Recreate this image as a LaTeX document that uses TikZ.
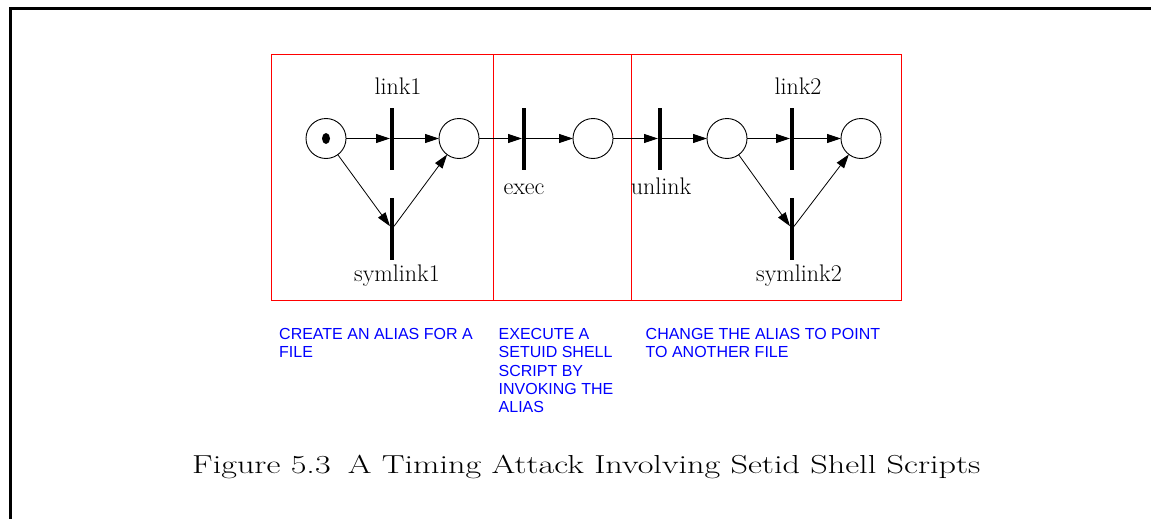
\documentclass[tikz,border=0pt]{standalone}
\usepackage{fontspec}
\newfontfamily\helv{Liberation Sans}
\usetikzlibrary{arrows.meta}
\definecolor{noteblue}{RGB}{0,0,255}
\begin{document}
\begin{tikzpicture}[x=1pt,y=-1pt,
  place/.style={circle,draw,line width=0.9pt,minimum size=40pt,inner sep=0pt,outer sep=0pt},
  trans/.style={rectangle,fill=black,minimum width=4pt,minimum height=62pt,inner sep=0pt,outer sep=0pt},
  arc/.style={line width=0.8pt,-{Triangle[length=14pt,width=9pt]}},
  lbl/.style={font=\fontsize{24}{28}\selectfont,inner sep=0pt,anchor=base},
  note/.style={font=\helv\fontsize{16}{18.4}\selectfont,text=noteblue,align=left,inner sep=0pt,anchor=base west},
  box/.style={draw=red,line width=1pt}]
\useasboundingbox (0,0) rectangle (1151,519);
% frame
\draw[line width=3pt] (1151,8.3) -- (10.5,8.3) -- (10.5,519);
% red boxes
\draw[box] (271,54.3) rectangle (901.5,300);
\draw[box] (493.5,54.3) -- (493.5,300);
\draw[box] (631,54.3) -- (631,300);
% places
\node[place] (p1) at (326,138.5) {};
\node[place] (p2) at (459,138.5) {};
\node[place] (p3) at (593,138.5) {};
\node[place] (p4) at (727,138.5) {};
\node[place] (p5) at (861,138.5) {};
\fill (p1.center) ellipse (4pt and 5.5pt);
% transitions
\node[trans] (link1) at (392,138.5) {};
\node[trans] (sym1) at (392,229) {};
\node[trans] (exec) at (524,138.5) {};
\node[trans] (unlink) at (660,138.5) {};
\node[trans] (link2) at (792,138.5) {};
\node[trans] (sym2) at (792,229) {};
% arcs
\draw[arc] (p1) -- (link1);
\draw[arc] (link1) -- (p2);
\draw[arc] (p1) -- (sym1);
\draw[arc] (sym1) -- (p2);
\draw[arc] (p2) -- (exec);
\draw[arc] (exec) -- (p3);
\draw[arc] (p3) -- (unlink);
\draw[arc] (unlink) -- (p4);
\draw[arc] (p4) -- (link2);
\draw[arc] (link2) -- (p5);
\draw[arc] (p4) -- (sym2);
\draw[arc] (sym2) -- (p5);
% labels
\node[lbl] (l1) at (398,94) {link1};
\node[lbl] (s1) at (397,281.5) {symlink1};
\node[lbl] (ex) at (524,194) {exec};
\node[lbl] (ul) at (661,194) {unlink};
\node[lbl] (l2) at (798,94.5) {link2};
\node[lbl] (s2) at (799,281.5) {symlink2};
% notes (base anchor = baseline of the last line)
\node[note] (n1) at (279,357.7) {CREATE AN ALIAS FOR A\\FILE};
\node[note] (n2) at (498.5,412.9) {EXECUTE A\\SETUID SHELL\\SCRIPT BY\\INVOKING THE\\ALIAS};
\node[note] (n3) at (645.5,357.7) {CHANGE THE ALIAS TO POINT\\TO ANOTHER FILE};
% caption
\node[anchor=base west,inner sep=0pt,font=\fontsize{26}{30}\selectfont] (cap) at (192,473.3)
  {\scalebox{1.315}[1]{Figure 5.3\hspace{0.5em}A Timing Attack Involving Setid Shell Scripts}};
\end{tikzpicture}
\end{document}
